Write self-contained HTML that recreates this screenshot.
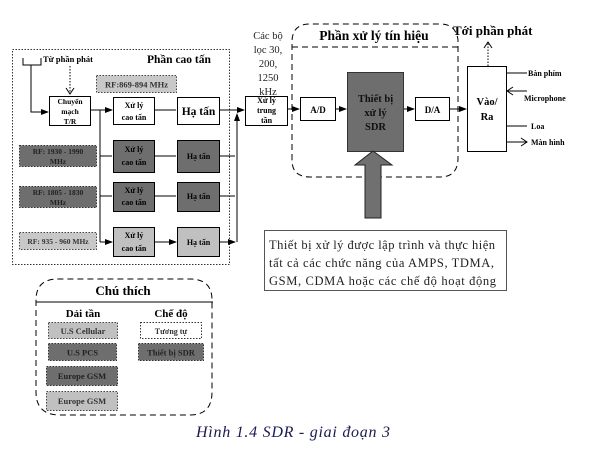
<!DOCTYPE html>
<html><head><meta charset="utf-8"><style>
html,body{margin:0;padding:0;background:#fff;overflow:hidden;}
svg{display:block;}
text{font-family:"Liberation Serif","DejaVu Serif",serif;}
.b{font-weight:bold;}
</style></head><body>
<svg width="609" height="454" viewBox="0 0 609 454" xmlns="http://www.w3.org/2000/svg">
<defs>
<marker id="a" markerWidth="8" markerHeight="8" refX="7" refY="4" orient="auto" markerUnits="userSpaceOnUse"><path d="M0,1 L8,4 L0,7 Z" fill="#000"/></marker>
<marker id="o" markerWidth="8" markerHeight="10" refX="7" refY="5" orient="auto" markerUnits="userSpaceOnUse"><path d="M1,1 L7,5 L1,9" fill="none" stroke="#000" stroke-width="1"/></marker>
</defs>
<rect x="12.5" y="49.5" width="217" height="215" fill="none" stroke="#333" stroke-dasharray="1.5,1.5"/>
<text x="147" y="63" font-size="11.5" class="b">Phần cao tấn</text>
<path d="M23,58 V65 H41 V58" fill="none" stroke="#000"/>
<path d="M31,65 V112 H48" fill="none" stroke="#000" marker-end="url(#a)"/>
<text x="43" y="62" font-size="8.5" class="b">Từ phần phát</text>
<path d="M70,66 V94" stroke="#000" stroke-dasharray="1.5,1.5" marker-end="url(#o)"/>
<rect x="96.5" y="75.5" width="80" height="17" fill="#c8c8c8" stroke="#444" stroke-dasharray="1.5,1.5"/>
<text x="136.5" y="87.5" font-size="8.5" class="b" text-anchor="middle" fill="#333">RF:869-894 MHz</text>
<rect x="49.5" y="96.5" width="41" height="29" fill="#fff" stroke="#000"/>
<text x="70" y="104" font-size="7.5" class="b" text-anchor="middle">Chuyển</text>
<text x="70" y="114" font-size="7.5" class="b" text-anchor="middle">mạch</text>
<text x="70" y="124" font-size="7.5" class="b" text-anchor="middle">T/R</text>
<path d="M91,110 H112" stroke="#000" marker-end="url(#a)"/>
<path d="M100,110 V242" stroke="#000"/>
<path d="M100,156 H112 M100,196 H112 M100,242 H112" stroke="#000" marker-end="url(#a)"/>
<g stroke="#000">
<rect x="113.5" y="97.5" width="41" height="27" fill="#fff"/>
<rect x="177.5" y="97.5" width="42" height="27" fill="#fff"/>
<rect x="113.5" y="140.5" width="41" height="32" fill="#6e6e6e"/>
<rect x="177.5" y="140.5" width="42" height="32" fill="#6e6e6e"/>
<rect x="113.5" y="182.5" width="41" height="29" fill="#6e6e6e"/>
<rect x="177.5" y="182.5" width="42" height="29" fill="#6e6e6e"/>
<rect x="113.5" y="227.5" width="41" height="29" fill="#c0c0c0"/>
<rect x="177.5" y="227.5" width="42" height="29" fill="#c0c0c0"/>
</g>
<g font-size="8" class="b" text-anchor="middle">
<text x="134" y="108">Xử lý</text><text x="134" y="120">cao tấn</text>
<text x="198.5" y="115" font-size="11.5">Hạ tấn</text>
<text x="134" y="152">Xử lý</text><text x="134" y="165">cao tấn</text>
<text x="198.5" y="159">Hạ tấn</text>
<text x="134" y="193">Xử lý</text><text x="134" y="205">cao tấn</text>
<text x="198.5" y="199">Hạ tấn</text>
<text x="134" y="238">Xử lý</text><text x="134" y="251">cao tấn</text>
<text x="198.5" y="245">Hạ tấn</text>
</g>
<path d="M155,110 H176 M155,156 H176 M155,196 H176 M155,242 H176" stroke="#000" marker-end="url(#a)"/>
<path d="M220,156 H235 M220,196 H235 M220,242 H235" stroke="#000" marker-end="url(#a)"/>
<path d="M237,242 V114" stroke="#000" marker-end="url(#a)"/>
<path d="M220,110 H244" stroke="#000" marker-end="url(#a)"/>
<rect x="19.5" y="145.5" width="77" height="21" fill="#6e6e6e" stroke="#333" stroke-dasharray="1.5,1.5"/>
<text x="58" y="154" font-size="7.5" class="b" text-anchor="middle" fill="#222">RF: 1930 - 1990</text>
<text x="58" y="164" font-size="7.5" class="b" text-anchor="middle" fill="#222">MHz</text>
<rect x="19.5" y="186.5" width="77" height="21" fill="#6e6e6e" stroke="#333" stroke-dasharray="1.5,1.5"/>
<text x="58" y="195" font-size="7.5" class="b" text-anchor="middle" fill="#222">RF: 1805 - 1830</text>
<text x="58" y="205" font-size="7.5" class="b" text-anchor="middle" fill="#222">MHz</text>
<rect x="19.5" y="232.5" width="77" height="17" fill="#c8c8c8" stroke="#444" stroke-dasharray="1.5,1.5"/>
<text x="58" y="244" font-size="7.5" class="b" text-anchor="middle" fill="#333">RF: 935 - 960 MHz</text>
<g font-size="10.5" text-anchor="middle" fill="#222">
<text x="268" y="39">Các bộ</text><text x="268" y="53">lọc 30,</text><text x="268" y="67">200,</text><text x="268" y="81">1250</text><text x="268" y="95">kHz</text>
</g>
<rect x="245.5" y="96.5" width="42" height="29" fill="#fff" stroke="#000"/>
<g font-size="8" class="b" text-anchor="middle"><text x="266.5" y="103">Xử lý</text><text x="266.5" y="113">trung</text><text x="266.5" y="123">tần</text></g>
<path d="M288,109 H299" stroke="#000" marker-end="url(#a)"/>
<path d="M292,160 V42 Q292,24 310,24 H440 Q456,24 458,40 V158 Q458,177 440,177 H310 Q292,177 292,160" fill="none" stroke="#000" stroke-dasharray="6,4"/>
<path d="M292,47 H458" stroke="#000" stroke-dasharray="6,4"/>
<text x="374" y="40" font-size="13.5" class="b" text-anchor="middle">Phần xử lý tín hiệu</text>
<rect x="300.5" y="97.5" width="35" height="23" fill="#fff" stroke="#000"/>
<text x="318" y="113" font-size="9" class="b" text-anchor="middle">A/D</text>
<path d="M336,109 H346" stroke="#000" marker-end="url(#a)"/>
<rect x="347.5" y="72.5" width="56" height="79" fill="#6e6e6e" stroke="#333"/>
<g font-size="10.5" class="b" text-anchor="middle" fill="#111"><text x="375.5" y="102">Thiết bị</text><text x="375.5" y="116">xử lý</text><text x="375.5" y="130">SDR</text></g>
<path d="M404,109 H414" stroke="#000" marker-end="url(#a)"/>
<rect x="415.5" y="97.5" width="34" height="23" fill="#fff" stroke="#000"/>
<text x="432.5" y="113" font-size="9" class="b" text-anchor="middle">D/A</text>
<path d="M450,109 H466" stroke="#000" marker-end="url(#a)"/>
<rect x="467.5" y="66.5" width="39" height="85" fill="#fff" stroke="#000"/>
<g font-size="10.5" class="b" text-anchor="middle"><text x="487" y="105">Vào/</text><text x="487" y="120">Ra</text></g>
<text x="453" y="35" font-size="13" class="b">Tới phần phát</text>
<path d="M488,66 V42" stroke="#000" stroke-dasharray="1.5,1.5" marker-end="url(#o)"/>
<path d="M527,73 H507 M527,91 H507" stroke="#000" marker-end="url(#o)"/>
<path d="M507,126 H527 M507,142 H527" stroke="#000" marker-end="url(#o)"/>
<g font-size="8" class="b"><text x="528" y="76">Bàn phím</text><text x="524" y="101">Microphone</text><text x="531" y="129">Loa</text><text x="531" y="145">Màn hình</text></g>
<path d="M365,218 V165 H355 L373,151 L392,165 H381 V218 Z" fill="#707070" stroke="#222"/>
<rect x="264.5" y="230.5" width="242" height="60" fill="#fff" stroke="#555"/>
<g font-size="12.5" fill="#222"><text x="269" y="249" textLength="226">Thiết bị xử lý được lập trình và thực hiện</text><text x="269" y="267" textLength="225">tất cả các chức năng của AMPS, TDMA,</text><text x="269" y="285" textLength="227">GSM, CDMA hoặc các chế độ hoạt động</text></g>
<path d="M36,300 V392 Q36,415 60,415 H190 Q212,415 212,392 V300 Q212,279 190,279 H58 Q36,279 36,300" fill="none" stroke="#000" stroke-dasharray="6,4"/>
<path d="M36,302 H213" stroke="#000"/>
<text x="123" y="295" font-size="13" class="b" text-anchor="middle">Chú thích</text>
<text x="83" y="317" font-size="11" class="b" text-anchor="middle">Dải tần</text>
<text x="171" y="317" font-size="11" class="b" text-anchor="middle">Chế độ</text>
<rect x="48.5" y="322.5" width="69" height="16" fill="#c0c0c0" stroke="#444" stroke-dasharray="1.5,1.5"/>
<text x="83" y="334" font-size="8.5" class="b" text-anchor="middle" fill="#333">U.S Cellular</text>
<rect x="48.5" y="343.5" width="68" height="17" fill="#6e6e6e" stroke="#333" stroke-dasharray="1.5,1.5"/>
<text x="82.5" y="355.5" font-size="8.5" class="b" text-anchor="middle" fill="#222">U.S PCS</text>
<rect x="46.5" y="366.5" width="71" height="19" fill="#6e6e6e" stroke="#333" stroke-dasharray="1.5,1.5"/>
<text x="82" y="379" font-size="8.5" class="b" text-anchor="middle" fill="#222">Europe GSM</text>
<rect x="46.5" y="391.5" width="71" height="19" fill="#c0c0c0" stroke="#444" stroke-dasharray="1.5,1.5"/>
<text x="82" y="404" font-size="8.5" class="b" text-anchor="middle" fill="#333">Europe GSM</text>
<rect x="140.5" y="322.5" width="61" height="16" fill="#fff" stroke="#333" stroke-dasharray="1.5,1.5"/>
<text x="171" y="334" font-size="8" class="b" text-anchor="middle" fill="#333">Tương tự</text>
<rect x="138.5" y="343.5" width="65" height="17" fill="#6e6e6e" stroke="#333" stroke-dasharray="1.5,1.5"/>
<text x="171" y="355.5" font-size="8.5" class="b" text-anchor="middle" fill="#222">Thiết bị SDR</text>
<text x="293" y="437" font-size="16" font-style="italic" text-anchor="middle" fill="#1a1a50" textLength="194">Hình 1.4  SDR - giai đoạn 3</text>
</svg>
</body></html>
